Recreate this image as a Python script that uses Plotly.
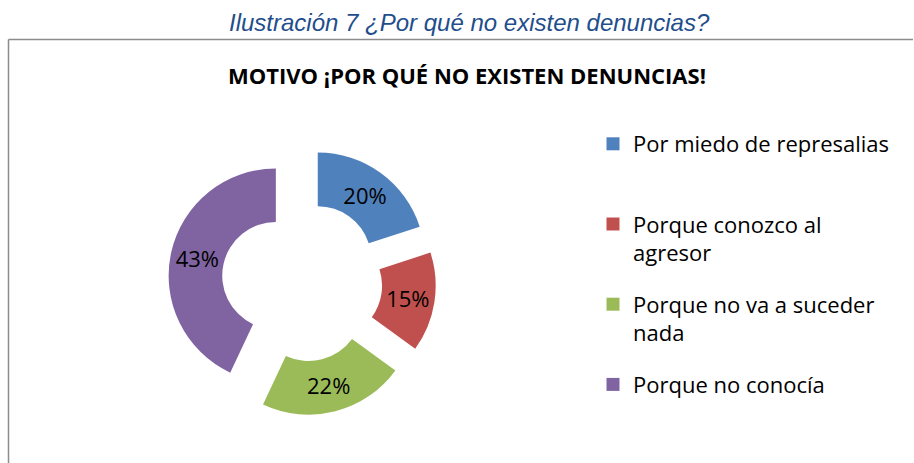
import plotly.graph_objects as go

labels = ["Por miedo de represalias", "Porque conozco al agresor",
          "Porque no va a suceder nada", "Porque no conocía"]
legend_labels = ["Por miedo de represalias<br> ", "Porque conozco al<br>agresor",
                 "Porque no va a suceder<br>nada", "Porque no conocía"]
values = [20, 15, 22, 43]
colors = ["#4F81BD", "#C0504D", "#9BBB59", "#8064A2"]

W, H = 914, 463
FONT = "Open Sans, Carlito, Lato, sans-serif"
fig = go.Figure(go.Pie(
    labels=labels, values=values, sort=False, direction="clockwise", rotation=0,
    hole=0.5, pull=[0.25] * 4,
    marker=dict(colors=colors, line=dict(width=0)),
    textinfo="percent", texttemplate="%{percent:.0%}",
    textposition="inside", insidetextorientation="horizontal",
    textfont=dict(family=FONT, size=22, color="black"),
    domain=dict(x=[168 / W, 436 / W], y=[1 - 415.5 / H, 1 - 147.5 / H]),
    hoverinfo="label+percent", showlegend=False,
))

# legend entries (one per category, own group so the gap can be set)
for i, (name, c) in enumerate(zip(legend_labels, colors)):
    fig.add_trace(go.Scatter(
        x=[None], y=[None], mode="markers", name=name, legendgroup=f"g{i}",
        marker=dict(symbol="square", size=13, color=c), hoverinfo="skip",
    ))

fig.update_layout(
    width=W, height=H, autosize=False,
    margin=dict(l=0, r=0, t=0, b=0),
    paper_bgcolor="white", plot_bgcolor="white",
    xaxis=dict(visible=False), yaxis=dict(visible=False),
    title=dict(text="<b>MOTIVO ¡POR QUÉ NO EXISTEN DENUNCIAS!</b>",
               x=467 / W, xanchor="center", y=1 - 76 / H, yanchor="middle",
               font=dict(family=FONT, size=22, color="black")),
    legend=dict(x=593 / W, xanchor="left", y=1 - 123 / H, yanchor="top",
                valign="top", tracegroupgap=20, traceorder="grouped",
                font=dict(family=FONT, size=22, color="black"),
                bgcolor="rgba(0,0,0,0)"),
    annotations=[dict(text="Ilustración 7 ¿Por qué no existen denuncias?",
                      x=469 / W, y=1 - 22 / H, xref="paper", yref="paper",
                      xanchor="center", yanchor="middle", showarrow=False,
                      font=dict(family="Liberation Sans, Arial, sans-serif",
                                size=24, color="#1F4E8C", style="italic"))],
    shapes=[
        dict(type="line", xref="paper", yref="paper", x0=8.5 / W, x1=8.5 / W, y0=0, y1=1 - 39.5 / H,
             line=dict(color="#8C8C8C", width=1.5)),
        dict(type="line", xref="paper", yref="paper", x0=8.5 / W, x1=913 / W, y0=1 - 39.5 / H, y1=1 - 39.5 / H,
             line=dict(color="#8C8C8C", width=1.5)),
    ],
)

fig.write_html("out.html", config={"displayModeBar": False},
               post_script="document.body.style.margin='0px';")
